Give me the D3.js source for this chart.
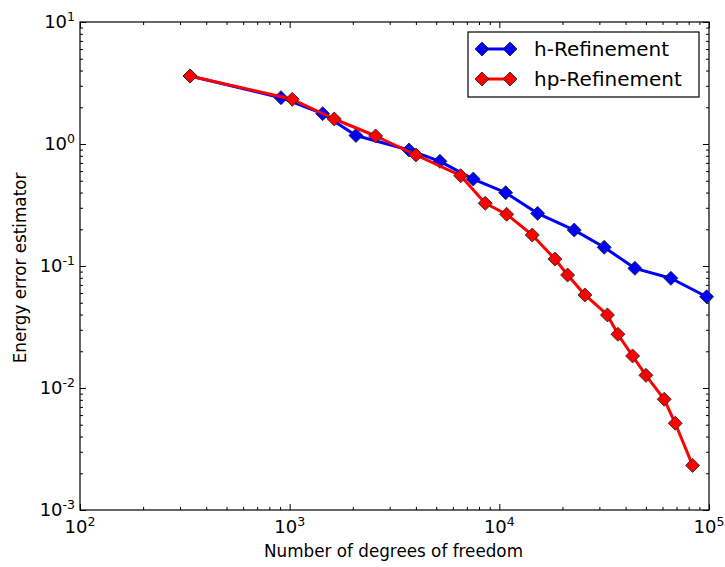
<!DOCTYPE html>
<html>
<head>
<meta charset="utf-8">
<script src="https://cdn.jsdelivr.net/npm/d3@7"></script>
<style>
body { margin: 0; background: #fff; }
text { font-family: "DejaVu Sans", sans-serif; fill: #000; }
</style>
</head>
<body>
<div id="chart"></div>
<script>
// degrees of freedom / error estimator
var dofH = [335, 909, 1437, 2071, 3706, 5208, 7508, 10716, 15224, 22760, 31640, 44320, 65810, 97410];
var errH = [3.61, 2.396, 1.772, 1.175, 0.893, 0.721, 0.516, 0.399, 0.270, 0.197, 0.1423, 0.0957, 0.0793, 0.0560];
var dofHp = [335, 1029, 1632, 2571, 4003, 6540, 8567, 10834, 14356, 18410, 21170, 25600, 32780, 36780, 43220, 50020, 61150, 69020, 83530];
var errHp = [3.61, 2.325, 1.603, 1.163, 0.8126, 0.5495, 0.3266, 0.2653, 0.1795, 0.1141, 0.0844, 0.0579, 0.0397, 0.02756, 0.0183, 0.01271, 0.00808, 0.00514, 0.00232];
var seriesNames = ["h-Refinement", "hp-Refinement"];
var seriesColors = ["#0000ff", "#ff0000"];
var xExps = [2, 3, 4, 5];
var yExps = [-3, -2, -1, 0, 1];

var W = 725, H = 567;
var margin = {top: 22, right: 16, bottom: 57, left: 80},
  width = W - margin.left - margin.right,
  height = H - margin.top - margin.bottom;

var svg = d3.select("#chart").append("svg")
  .attr("width", W).attr("height", H);
var g = svg.append("g")
  .attr("transform", "translate(" + margin.left + "," + margin.top + ")");

var x = d3.scaleLog().domain([1e2, 1e5]).range([0, width]);
var y = d3.scaleLog().domain([1e-3, 1e1]).range([height, 0]);

function minors(lo, hi) {
  var out = [];
  for (var e = lo; e < hi; e++)
    for (var k = 2; k <= 9; k++) out.push(k * Math.pow(10, e));
  return out;
}
var xMajor = xExps.map(function(e){ return Math.pow(10, e); });
var yMajor = yExps.map(function(e){ return Math.pow(10, e); });
var xMinor = minors(2, 5), yMinor = minors(-3, 1);

function tickAxis(axis, vals, size, tr) {
  var a = g.append("g").attr("transform", tr)
    .call(axis.tickValues(vals).tickSize(size).tickFormat(""));
  a.select(".domain").remove();
  a.selectAll("line").attr("stroke", "#000");
  return a;
}
// inward ticks on all sides
tickAxis(d3.axisBottom(x), xMajor, -6, "translate(0," + height + ")");
tickAxis(d3.axisBottom(x), xMinor, -3, "translate(0," + height + ")");
tickAxis(d3.axisTop(x), xMajor, -6, "translate(0,0)");
tickAxis(d3.axisTop(x), xMinor, -3, "translate(0,0)");
tickAxis(d3.axisLeft(y), yMajor, -6, "translate(0,0)");
tickAxis(d3.axisLeft(y), yMinor, -3, "translate(0,0)");
tickAxis(d3.axisRight(y), yMajor, -6, "translate(" + width + ",0)");
tickAxis(d3.axisRight(y), yMinor, -3, "translate(" + width + ",0)");

// tick labels with superscripts
xExps.forEach(function(e){
  var t = g.append("text").attr("x", x(Math.pow(10, e))).attr("y", height + 23)
    .attr("text-anchor", "middle").style("font-size", "18px");
  t.append("tspan").text("10");
  t.append("tspan").attr("dy", -7).style("font-size", "12.5px").text(e);
});
yExps.forEach(function(e){
  var t = g.append("text").attr("x", -5).attr("y", y(Math.pow(10, e)) + 6)
    .attr("text-anchor", "end").style("font-size", "18px");
  t.append("tspan").text("10");
  t.append("tspan").attr("dy", -7).style("font-size", "12.5px").text(e < 0 ? "-" + (-e) : e);
});

// frame
g.append("rect").attr("width", width).attr("height", height)
  .attr("fill", "none").attr("stroke", "#000").attr("stroke-width", 1.2);

// axis labels
svg.append("text").attr("x", margin.left + width / 2 - 1).attr("y", 557)
  .attr("text-anchor", "middle").style("font-size", "16.8px")
  .text("Number of degrees of freedom");
svg.append("text").attr("transform", "translate(26," + (margin.top + height / 2 + 2) + ") rotate(-90)")
  .attr("text-anchor", "middle").style("font-size", "16.8px")
  .text("Energy error estimator");

var line = d3.line()
  .x(function(d){ return x(d[0]); })
  .y(function(d){ return y(d[1]); });
var diamond = d3.symbol().type(d3.symbolSquare).size(98);

var series = [
  d3.zip(dofH, errH),
  d3.zip(dofHp, errHp)
];

series.forEach(function(data, i){
  g.append("path").datum(data)
    .attr("d", line).attr("fill", "none")
    .attr("stroke", seriesColors[i]).attr("stroke-width", 3)
    .attr("stroke-linejoin", "round");
  g.selectAll(".dot" + i).data(data).enter().append("path")
    .attr("class", "dot" + i)
    .attr("d", diamond)
    .attr("transform", function(d){ return "translate(" + x(d[0]) + "," + y(d[1]) + ") rotate(45)"; })
    .attr("fill", seriesColors[i]).attr("stroke", "#222").attr("stroke-width", 0.8);
});

// legend
var leg = svg.append("g").attr("transform", "translate(468,32)");
leg.append("rect").attr("width", 231).attr("height", 65)
  .attr("fill", "#fff").attr("stroke", "#000").attr("stroke-width", 1.2);
seriesNames.forEach(function(name, i){
  var ly = 17 + i * 30;
  leg.append("line").attr("x1", 14).attr("x2", 42).attr("y1", ly).attr("y2", ly)
    .attr("stroke", seriesColors[i]).attr("stroke-width", 3);
  [14, 42].forEach(function(lx){
    leg.append("path").attr("d", diamond)
      .attr("transform", "translate(" + lx + "," + ly + ") rotate(45)")
      .attr("fill", seriesColors[i]).attr("stroke", "#222").attr("stroke-width", 0.8);
  });
  leg.append("text").attr("x", 66).attr("y", ly + 7)
    .style("font-size", "20px").text(name);
});
</script>
</body>
</html>
